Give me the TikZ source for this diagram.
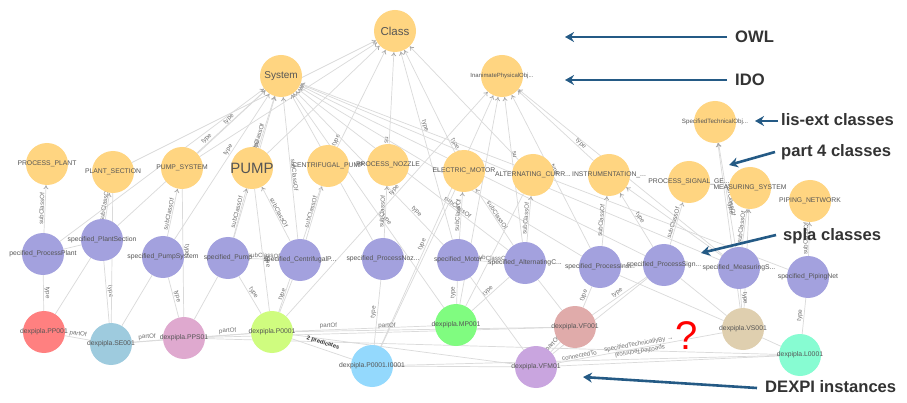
\documentclass[tikz,border=0pt]{standalone}
\usepackage{fontspec}
\setmainfont{Liberation Sans}
\usetikzlibrary{arrows.meta}
\pgfdeclarelayer{bg}
\pgfsetlayers{bg,main}
\definecolor{edgegrey}{HTML}{DADADA}
\definecolor{labelgrey}{HTML}{707070}
\definecolor{nodetext}{HTML}{555555}
\definecolor{annot}{HTML}{333333}
\definecolor{arrowblue}{HTML}{245A85}
\definecolor{orangec}{HTML}{FFD581}
\definecolor{purplec}{HTML}{A3A1DE}
\definecolor{cPP}{HTML}{FF8080}
\definecolor{cSE}{HTML}{9ECBDE}
\definecolor{cPPS}{HTML}{DFA9CF}
\definecolor{cP}{HTML}{CFFC7F}
\definecolor{cMP}{HTML}{80FC80}
\definecolor{cI}{HTML}{94D9FD}
\definecolor{cVFM}{HTML}{C9A5DF}
\definecolor{cVF}{HTML}{E0ABAA}
\definecolor{cVS}{HTML}{DFCFAF}
\definecolor{cL}{HTML}{87FCD2}
\tikzset{
  circ/.style={circle,minimum size=42pt,inner sep=0pt,text=nodetext,font=\fontsize{6.8}{7}\selectfont,
    execute at begin node={\hbox to 0pt\bgroup\hss},execute at end node={\hss\egroup}},
  cls/.style={circ,fill=orangec},
  spc/.style={circ,fill=purplec},
  inst/.style={circ,fill=#1},
  link/.style={draw=edgegrey,line width=0.7pt},
  arrowlink/.style={link,-{To[length=4pt,width=5pt,color=gray!70]}},
  elabel/.style={sloped,above=0.8pt,inner sep=0pt,text=labelgrey,font=\fontsize{6.2}{7}\selectfont},
  annotext/.style={text=annot,font=\fontsize{16.6}{18}\bfseries\selectfont,inner sep=0pt},
  bluearrow/.style={draw=arrowblue,line width=2.6pt,-{Stealth[length=9pt,width=10pt]}}
}
\newcommand{\lnk}[4]{\draw[arrowlink] (#1) -- node[elabel,pos=#3]{#4} (#2);}
\newcommand{\pln}[4]{\draw[link] (#1) -- node[elabel,pos=#3]{#4} (#2);}
\begin{document}
\begin{tikzpicture}[x=1pt,y=-1pt]
\begin{pgfonlayer}{bg}
\fill[white] (0,0) rectangle (907,403);
\end{pgfonlayer}
\useasboundingbox (0,0) rectangle (907,403);
% classes
\node[cls,font=\fontsize{11.5}{12}\selectfont] (Class) at (395,31) {Class};
\node[cls,font=\fontsize{10}{11}\selectfont] (System) at (281,76) {System};
\node[cls,font=\fontsize{6}{7}\selectfont] (Inanimate) at (502,76) {InanimatePhysicalObj...};
\node[cls,font=\fontsize{6.2}{7}\selectfont] (SpecTech) at (715,122) {SpecifiedTechnicalObj...};
\node[cls] (PLANT) at (47,164) {PROCESS\_PLANT};
\node[cls] (SECTION) at (113,172) {PLANT\_SECTION};
\node[cls] (PSYS) at (182,168) {PUMP\_SYSTEM};
\node[cls,font=\fontsize{15}{16}\selectfont] (PUMP) at (252,168) {PUMP};
\node[cls] (CENT) at (328,166) {CENTRIFUGAL\_PUMP};
\node[cls] (NOZZLE) at (388,165) {PROCESS\_NOZZLE};
\node[cls] (EMOTOR) at (464,171) {ELECTRIC\_MOTOR};
\node[cls] (ALT) at (533,175) {ALTERNATING\_CURR...};
\node[cls] (INSTR) at (609,175) {INSTRUMENTATION\_...};
\node[cls] (SIGNAL) at (689,182) {PROCESS\_SIGNAL\_GE...};
\node[cls] (MEAS) at (750,188) {MEASURING\_SYSTEM};
\node[cls] (PIPING) at (810,201) {PIPING\_NETWORK};
% specified classes
\node[spc] (sPlant) at (43,254) {pecified\_ProcessPlant};
\node[spc] (sSect) at (102,240) {specified\_PlantSection};
\node[spc] (sPSys) at (163,257) {specified\_PumpSystem};
\node[spc] (sPump) at (228,258) {specified\_Pump};
\node[spc] (sCent) at (300,260) {specified\_CentrifugalP...};
\node[spc] (sNozz) at (383,259) {specified\_ProcessNoz...};
\node[spc] (sMot) at (458,260) {specified\_Motor};
\node[spc] (sAlt) at (525,263) {specified\_AlternatingC...};
\node[spc] (sIns) at (600,267) {specified\_ProcessIns...};
\node[spc] (sSign) at (664,265) {specified\_ProcessSign...};
\node[spc] (sMeas) at (739,268) {specified\_MeasuringS...};
\node[spc] (sPipe) at (808,277) {specified\_PipingNet};
% instances
\node[inst=cPP] (PP) at (44,332) {dexpipla.PP001};
\node[inst=cSE] (SE) at (111,344) {dexpipla.SE001};
\node[inst=cPPS] (PPS) at (184,338) {dexpipla.PPS01};
\node[inst=cP] (P1) at (272,332) {dexpipla.P0001};
\node[inst=cMP] (MP) at (456,325) {dexpipla.MP001};
\node[inst=cI] (I1) at (372,366) {dexpipla.P0001.I0001};
\node[inst=cVFM] (VFM) at (536,367) {dexpipla.VFM01};
\node[inst=cVF] (VF) at (575,327) {dexpipla.VF001};
\node[inst=cVS] (VS) at (743,329) {dexpipla.VS001};
\node[inst=cL] (L1) at (800,355) {dexpipla.L0001};
% annotations
\node[annotext,anchor=west] (tOWL) at (735,37) {OWL};
\node[annotext,anchor=west] (tIDO) at (735,80) {IDO};
\node[annotext,anchor=west] (tLIS) at (781,120) {lis-ext classes};
\node[annotext,anchor=west] (tP4) at (781,152) {part 4 classes};
\node[annotext,anchor=west] (tSPLA) at (783,236) {spla classes};
\node[annotext,anchor=west] (tDEX) at (765,387) {DEXPI instances};
\node[text=red,font=\fontsize{40}{42}\selectfont,inner sep=0pt] (qm) at (687,336) {?};
\coordinate (aOWLs) at (727,37); \coordinate (aOWLe) at (565,37);
\coordinate (aIDOs) at (727,80); \coordinate (aIDOe) at (565,80);
\coordinate (aLISs) at (778,121); \coordinate (aLISe) at (755,121);
\coordinate (aP4s) at (775,152); \coordinate (aP4e) at (729,165);
\coordinate (aSPs) at (776,235); \coordinate (aSPe) at (701,253);
\coordinate (aDXs) at (757,388); \coordinate (aDXe) at (583,377);
\foreach \a/\b in {aOWLs/aOWLe,aIDOs/aIDOe,aLISs/aLISe,aP4s/aP4e,aSPs/aSPe,aDXs/aDXe}
  \draw[bluearrow] (\a) -- (\b);
\begin{pgfonlayer}{bg}
% to Class
\lnk{SECTION}{Class}{0.1}{}
\lnk{PSYS}{Class}{0.1}{}
\lnk{PUMP}{Class}{0.1}{}
\lnk{CENT}{Class}{0.05}{type}
\lnk{NOZZLE}{Class}{0.04}{su}
\lnk{sMot}{Class}{0.6}{type}
\lnk{EMOTOR}{Class}{0.06}{type}
\lnk{ALT}{Class}{0.1}{}
% to System
\lnk{sPlant}{System}{0.75}{}
\lnk{sSect}{System}{0.62}{type}
\lnk{sPSys}{System}{0.6}{type}
\lnk{sPump}{System}{0.64}{type}
\lnk{PSYS}{System}{0.5}{type}
\lnk{PUMP}{System}{0.15}{subClassOf}
\lnk{sCent}{System}{0.45}{subClassOf}
\lnk{sNozz}{System}{0.5}{}
\lnk{sMot}{System}{0.2}{type}
\lnk{MP}{System}{0.4}{type}
\lnk{sAlt}{System}{0.25}{subClassOf}
\lnk{sIns}{System}{0.42}{type}
\lnk{sSign}{System}{0.25}{}
\lnk{sPipe}{System}{0.7}{}
\lnk{sMeas}{System}{0.6}{}
% to Inanimate
\lnk{P1}{Inanimate}{0.55}{type}
\lnk{I1}{Inanimate}{0.4}{type}
\lnk{MP}{Inanimate}{0.5}{}
\lnk{sAlt}{Inanimate}{0.6}{su}
\lnk{INSTR}{Inanimate}{0.2}{type}
\lnk{sMeas}{Inanimate}{0.25}{}
\lnk{sIns}{Inanimate}{0.5}{type}
% spec -> class
\lnk{sPlant}{PLANT}{0.5}{subClassOf}
\lnk{sSect}{SECTION}{0.5}{subClassOf}
\lnk{sPSys}{PSYS}{0.45}{subClassOf}
\lnk{sPump}{PUMP}{0.5}{subClassOf}
\lnk{sCent}{PUMP}{0.5}{subClassOf}
\lnk{sCent}{CENT}{0.5}{subClassOf}
\lnk{sNozz}{NOZZLE}{0.5}{subClassOf}
\lnk{sMot}{EMOTOR}{0.5}{subClassOf}
\lnk{sAlt}{ALT}{0.5}{subClassOf}
\lnk{sAlt}{EMOTOR}{0.5}{subClassOf}
\lnk{sIns}{INSTR}{0.5}{subClassOf}
\lnk{sSign}{SIGNAL}{0.5}{subClassOf}
\lnk{sSign}{INSTR}{0.5}{type}
\lnk{sMeas}{MEAS}{0.5}{subClassOf}
\lnk{sMeas}{INSTR}{0.5}{}
\lnk{sMeas}{SpecTech}{0.45}{subClassOf}
\lnk{VS}{MEAS}{0.55}{type}
\lnk{VS}{SpecTech}{0.6}{type}
\lnk{sPipe}{PIPING}{0.5}{subClassOf}
% spec row
\pln{sPump}{sCent}{0.5}{subClassOf}
\pln{sMot}{sAlt}{0.5}{subClassOf}
\pln{sIns}{sSign}{0.5}{}
\pln{sPlant}{sSect}{0.5}{}
% inst -> spec/class
\pln{PP}{sPlant}{0.5}{type}
\pln{PP}{sSect}{0.5}{}
\pln{SE}{sSect}{0.5}{type}
\pln{SE}{SECTION}{0.5}{}
\pln{SE}{sPSys}{0.5}{}
\pln{PPS}{sPSys}{0.5}{type}
\pln{PPS}{sPump}{0.5}{}
\pln{PPS}{PSYS}{0.52}{type}
\pln{P1}{sPump}{0.5}{type}
\pln{P1}{sCent}{0.5}{type}
\pln{P1}{PUMP}{0.4}{type}
\pln{P1}{CENT}{0.4}{type}
\pln{I1}{sNozz}{0.5}{type}
\pln{I1}{EMOTOR}{0.5}{}
\pln{MP}{sMot}{0.5}{type}
\pln{MP}{sAlt}{0.5}{type}
\pln{MP}{ALT}{0.5}{}
\pln{sMot}{VFM}{0.5}{}
\pln{sAlt}{VF}{0.5}{}
\pln{VF}{sIns}{0.5}{type}
\pln{VF}{sSign}{0.5}{type}
\pln{VFM}{sSign}{0.5}{}
\pln{sSign}{VS}{0.5}{}
\pln{sIns}{VS}{0.5}{}
\pln{VS}{sMeas}{0.5}{type}
\pln{L1}{sPipe}{0.5}{type}
\pln{VS}{L1}{0.5}{}
% part-of and other instance links
\pln{PP}{SE}{0.5}{partOf}
\pln{SE}{PPS}{0.5}{partOf}
\pln{PPS}{P1}{0.5}{partOf}
\pln{SE}{P1}{0.5}{}
\pln{P1}{MP}{0.25}{partOf}
\pln{P1}{VF}{0.36}{partOf}
\pln{P1}{I1}{0.5}{}
\pln{PPS}{VF}{0.5}{}
\pln{PPS}{L1}{0.5}{}
\pln{P1}{VFM}{0.5}{}
\pln{I1}{VFM}{0.5}{}
\pln{I1}{L1}{0.5}{}
\pln{VFM}{VF}{0.5}{partOf}
\draw[link] (VFM) -- node[elabel,pos=0.14]{connectedTo} node[elabel,pos=0.5]{specifiedTechnicallyBy →} (VS);
\pln{VFM}{L1}{0.5}{}
\node[rotate=189,font=\fontsize{6.2}{7}\selectfont,text=labelgrey,inner sep=0pt] (rev) at (640,351) {specifiedTechnical};
\node[rotate=-17,font=\fontsize{5.8}{6}\bfseries\selectfont,text=black!80,inner sep=0pt] (pred) at (323,343) {2 predicates};
\end{pgfonlayer}
\end{tikzpicture}
\end{document}
